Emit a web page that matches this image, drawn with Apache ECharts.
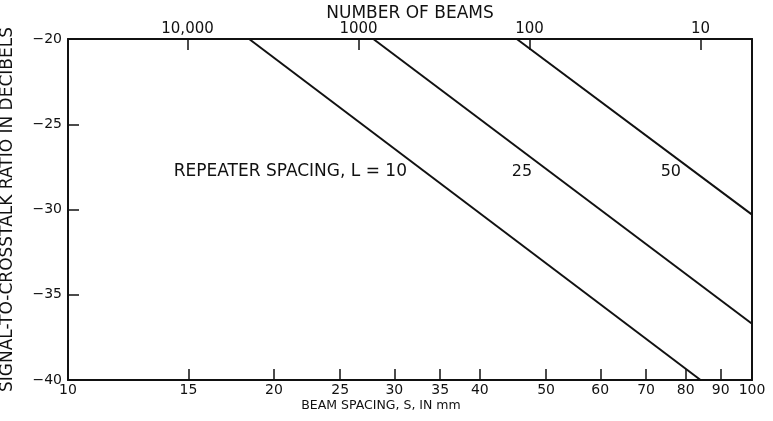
<!DOCTYPE html>
<html>
<head>
<meta charset="utf-8">
<script src="https://cdn.jsdelivr.net/npm/echarts@6/dist/echarts.min.js"></script>
<style>
  html, body { margin: 0; padding: 0; background: #fff; }
  #main { width: 773px; height: 421px; }
</style>
</head>
<body>
<div id="main"></div>
<script>
// beam spacing S (mm), bottom axis ticks
const spacingTicks = [10, 15, 20, 25, 30, 35, 40, 50, 60, 70, 80, 90, 100]
// number of beams, top axis ticks
const beamTicks = [10, 100, 1000, 10000]
const beamLabels = { 10: '10', 100: '100', 1000: '1000', 10000: '10,000' }

// curves: [S, dB] end points for each repeater spacing
const curveL10 = [[18.4, -20], [84.1, -40]]
const curveL25 = [[27.95, -20], [100, -36.7]]
const curveL50 = [[45.3, -20], [100, -30.3]]
const curveNames = ['REPEATER SPACING, L = 10', '25', '50']

const font = 'DejaVu Sans'
const black = '#111'

const chart = echarts.init(document.getElementById('main'))

// label sits beside each curve
function curveSeries(name, data, labelAt, position, size) {
  return {
    name,
    type: 'line',
    xAxisIndex: 0,
    yAxisIndex: 0,
    data,
    symbol: 'none',
    silent: true,
    lineStyle: { color: black, width: 2 },
    markPoint: {
      symbol: 'circle',
      symbolSize: 0,
      silent: true,
      label: {
        show: true,
        position,
        distance: 0,
        formatter: name,
        color: black,
        fontFamily: font,
        fontSize: size
      },
      data: [{ coord: labelAt }]
    }
  }
}

const option = {
  animation: false,
  grid: { left: 68, top: 39, right: 21, bottom: 41, outerBoundsMode: 'none' },
  xAxis: [
    {
      type: 'log',
      min: 10,
      max: 100,
      name: 'BEAM SPACING, S, IN mm',
      nameLocation: 'middle',
      nameGap: 19,
      nameMoveOverlap: false,
      nameTextStyle: { color: black, fontFamily: font, fontSize: 12.5, padding: [0, 58, 0, 0] },
      axisLine: { lineStyle: { color: black, width: 2 } },
      axisTick: { inside: true, length: 11, customValues: spacingTicks, lineStyle: { color: black, width: 1.5 } },
      axisLabel: { customValues: spacingTicks, color: black, fontFamily: font, fontSize: 14, margin: 3 },
      minorTick: { show: false },
      splitLine: { show: false }
    },
    {
      type: 'log',
      position: 'top',
      inverse: true,
      min: 5,
      max: 50000,
      name: 'NUMBER OF BEAMS',
      nameLocation: 'middle',
      nameGap: 17,
      nameMoveOverlap: false,
      nameTextStyle: { color: black, fontFamily: font, fontSize: 17 },
      axisLine: { lineStyle: { color: black, width: 2 } },
      axisTick: { inside: true, length: 11, customValues: beamTicks, lineStyle: { color: black, width: 1.5 } },
      axisLabel: {
        customValues: beamTicks,
        color: black,
        fontFamily: font,
        fontSize: 15,
        margin: 2,
        formatter: (v) => beamLabels[Math.round(v)] || ''
      },
      splitLine: { show: false }
    }
  ],
  yAxis: [
    {
      type: 'value',
      min: -40,
      max: -20,
      interval: 5,
      name: 'SIGNAL-TO-CROSSTALK RATIO IN DECIBELS',
      nameLocation: 'middle',
      nameGap: 52,
      nameMoveOverlap: false,
      nameTextStyle: { color: black, fontFamily: font, fontSize: 17 },
      axisLine: { show: true, lineStyle: { color: black, width: 2 } },
      axisTick: { show: true, inside: true, length: 11, lineStyle: { color: black, width: 1.5 } },
      axisLabel: {
        color: black,
        fontFamily: font,
        fontSize: 14,
        margin: 6,
        formatter: (v) => String(v).replace('-', '\u2212')
      },
      splitLine: { show: false }
    },
    {
      type: 'value',
      position: 'right',
      min: -40,
      max: -20,
      axisLine: { show: true, lineStyle: { color: black, width: 2 } },
      axisTick: { show: false },
      axisLabel: { show: false },
      splitLine: { show: false }
    }
  ],
  series: [
    curveSeries(curveNames[0], curveL10, [31.3, -27.8], 'left', 17),
    curveSeries(curveNames[1], curveL25, [46.1, -27.8], 'inside', 16),
    curveSeries(curveNames[2], curveL50, [76.1, -27.8], 'inside', 16)
  ]
}

chart.setOption(option)
</script>
</body>
</html>
